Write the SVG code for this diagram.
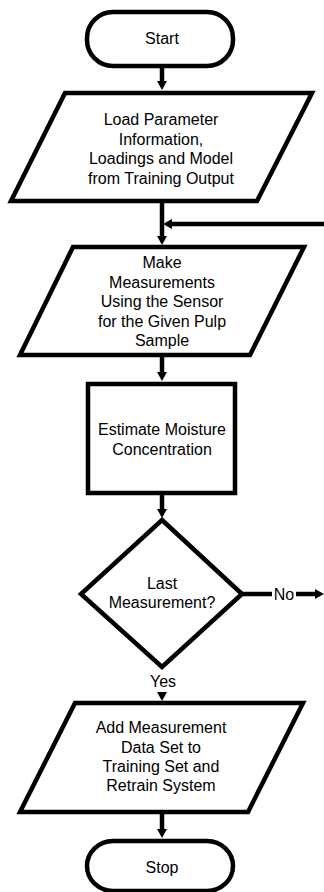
<svg xmlns="http://www.w3.org/2000/svg" width="324" height="892" viewBox="0 0 324 892">
  <style>
    .shape { fill: #ffffff; stroke: #000000; stroke-width: 4.5; stroke-linejoin: miter; }
    .wire { fill: none; stroke: #000000; stroke-width: 4.5; }
    .label { font-family: "Liberation Sans", Arial, sans-serif; font-size: 16px; fill: #000000; text-anchor: middle; }
  </style>
  <defs>
    <marker id="head" viewBox="0 0 9 10" refX="2" refY="5" markerWidth="9" markerHeight="10" markerUnits="userSpaceOnUse" orient="auto">
      <path d="M0,0 L9,5 L0,10 Z" fill="#000000"/>
    </marker>
  </defs>

  <rect width="324" height="892" fill="#ffffff"/>

  <!-- connectors -->
  <g id="connectors">
    <path class="wire" d="M162 68 L162 83" marker-end="url(#head)"/>
    <path class="wire" d="M162 201 L162 238" marker-end="url(#head)"/>
    <path class="wire" d="M324 224 L170 224" marker-end="url(#head)"/>
    <path class="wire" d="M162 355 L162 374" marker-end="url(#head)"/>
    <path class="wire" d="M162 493 L162 511" marker-end="url(#head)"/>
    <path class="wire" d="M242 594 L272 594"/>
    <path class="wire" d="M296 594 L317 594" marker-end="url(#head)"/>
    <text class="label" x="284" y="599.5">No</text>
    <text class="label" x="163" y="687">Yes</text>
    <path class="wire" d="M162 693 L162 694" marker-end="url(#head)"/>
    <path class="wire" d="M162 812 L162 831" marker-end="url(#head)"/>
  </g>

  <!-- start terminal -->
  <g id="start">
    <rect class="shape" x="87" y="12" width="146" height="54" rx="26" ry="26"/>
    <text class="label" x="162" y="44">Start</text>
  </g>

  <!-- load parameters -->
  <g id="load">
    <polygon class="shape" points="65,93 312,93 257,201 11,201"/>
    <text class="label" x="161" y="125">Load Parameter</text>
    <text class="label" x="161" y="144.5">Information,</text>
    <text class="label" x="161" y="164">Loadings and Model</text>
    <text class="label" x="161" y="183.5">from Training Output</text>
  </g>

  <!-- measurement input -->
  <g id="measure">
    <polygon class="shape" points="73,247 304,247 250,355 20,355"/>
    <text class="label" x="162" y="268">Make</text>
    <text class="label" x="162" y="287.5">Measurements</text>
    <text class="label" x="162" y="307">Using the Sensor</text>
    <text class="label" x="162" y="326.5">for the Given Pulp</text>
    <text class="label" x="162" y="346">Sample</text>
  </g>

  <!-- estimate process -->
  <g id="estimate">
    <rect class="shape" x="88" y="384" width="147" height="109"/>
    <text class="label" x="162" y="435">Estimate Moisture</text>
    <text class="label" x="162" y="454.5">Concentration</text>
  </g>

  <!-- decision -->
  <g id="decision">
    <polygon class="shape" points="162,520 242,594 162,667 81,594"/>
    <text class="label" x="162" y="588.5">Last</text>
    <text class="label" x="162" y="608">Measurement?</text>
  </g>

  <!-- retrain output -->
  <g id="retrain">
    <polygon class="shape" points="75,703 303,703 248,812 20,812"/>
    <text class="label" x="161" y="733">Add Measurement</text>
    <text class="label" x="161" y="752.5">Data Set to</text>
    <text class="label" x="161" y="772">Training Set and</text>
    <text class="label" x="161" y="791">Retrain System</text>
  </g>

  <!-- stop terminal -->
  <g id="stop">
    <rect class="shape" x="87" y="841" width="146" height="50" rx="26" ry="26"/>
    <text class="label" x="162" y="873">Stop</text>
  </g>
</svg>
